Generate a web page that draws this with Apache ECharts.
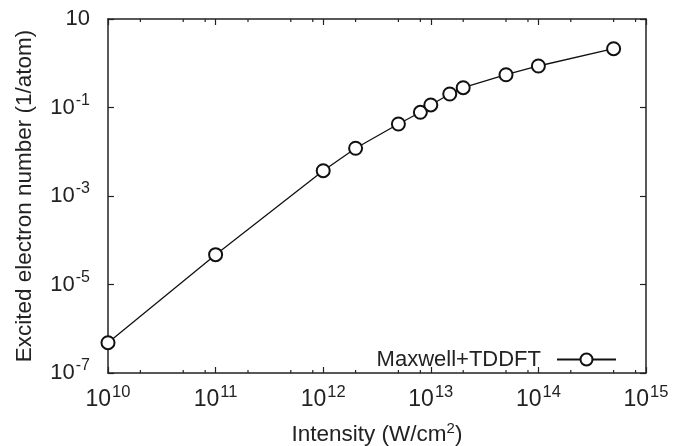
<!DOCTYPE html>
<html><head><meta charset="utf-8">
<script src="https://cdn.jsdelivr.net/npm/echarts@6/dist/echarts.min.js"></script>
<style>html,body{margin:0;padding:0;background:#fff}#c{width:681px;height:446px}</style>
</head><body><div id="c"></div>
<script>
// ---- data ----
const intensity = [1e10, 1e11, 1e12, 2e12, 5e12, 8e12, 1e13, 1.5e13, 2e13, 5e13, 1e14, 5e14];
const excited   = [4.84e-7, 4.72e-5, 3.73e-3, 0.0120, 0.0424, 0.078, 0.114, 0.202, 0.28, 0.55, 0.867, 2.13];
const seriesName = 'Maxwell+TDDFT';
const xDecades = [10, 11, 12, 13, 14];
const minorMultipliers = [2, 5, 8];
const xTitle = 'Intensity (W/cm{s|2})';
const yTitle = 'Excited electron number (1/atom)';

const FONT = "'Liberation Sans', Arial, Helvetica, sans-serif";
const INK = '#222';

const minorTicks = [];
xDecades.forEach(d => minorMultipliers.forEach(m => minorTicks.push([m * Math.pow(10, d), 1])));

function expLabel(v, plainOne) {
  const e = Math.round(Math.log10(v));
  if (plainOne && e === 1) return '{b|10}';
  return '{b|10}{s|' + e + '}';
}
const richLab = {
  b: { fontSize: 22, fontFamily: FONT, color: INK },
  s: { fontSize: 16, fontFamily: FONT, color: INK, padding: [0, 0, 14, 1] }
};
const richLabX = {
  b: { fontSize: 23, fontFamily: FONT, color: INK },
  s: { fontSize: 16.5, fontFamily: FONT, color: INK, padding: [0, 0, 14, 1] }
};

const chart = echarts.init(document.getElementById('c'), null, { renderer: 'canvas' });
const axisCommon = {
  type: 'log', logBase: 10,
  axisLine: { show: true, lineStyle: { color: INK, width: 1.5 } },
  axisTick: { show: true, inside: true, length: 6, lineStyle: { color: INK, width: 1.2 } },
  splitLine: { show: false }, minorTick: { show: false }, minorSplitLine: { show: false }
};
chart.setOption({
  backgroundColor: '#fff',
  animation: false,
  grid: { left: 108, right: 35, top: 19, bottom: 73, containLabel: false, outerBoundsMode: 'none' },
  legend: {
    data: [seriesName], right: 64, top: 348.5, align: 'right', padding: 0,
    itemWidth: 59, itemHeight: 15, selectedMode: false,
    textStyle: { fontSize: 22, fontFamily: FONT, color: INK, padding: [0, 11, 0, 0] }
  },
  xAxis: [
    Object.assign({}, axisCommon, {
      position: 'bottom', min: 1e10, max: 1e15, interval: 1,
      name: xTitle, nameLocation: 'middle', nameGap: 48,
      nameTextStyle: { fontSize: 22.5, fontFamily: FONT, color: INK, rich: { s: { fontSize: 15, fontFamily: FONT, color: INK, padding: [0, 0, 12, 0] } } },
      axisLabel: { margin: 11, formatter: v => expLabel(v, false), rich: richLabX }
    }),
    Object.assign({}, axisCommon, {
      position: 'top', min: 1e10, max: 1e15, interval: 1, axisLabel: { show: false }
    })
  ],
  yAxis: [
    Object.assign({}, axisCommon, {
      position: 'left', min: 1e-7, max: 10, interval: 2,
      name: yTitle, nameLocation: 'middle', nameGap: 72, nameRotate: 90,
      nameTextStyle: { fontSize: 22.5, fontFamily: FONT, color: INK },
      axisLabel: { margin: 18, formatter: v => expLabel(v, true), rich: richLab }
    }),
    Object.assign({}, axisCommon, {
      position: 'right', min: 1e-7, max: 10, interval: 2, axisLabel: { show: false }
    })
  ],
  series: [
    {
      name: seriesName, type: 'line', xAxisIndex: 0, yAxisIndex: 0,
      data: intensity.map((x, i) => [x, excited[i]]),
      symbol: 'emptyCircle', symbolSize: 13,
      itemStyle: { color: '#111', borderColor: '#111', borderWidth: 1.3 },
      lineStyle: { color: '#111', width: 1.3 },
      z: 3
    },
    {
      name: 'minorTicks', type: 'custom', xAxisIndex: 0, yAxisIndex: 0,
      data: minorTicks, silent: true, clip: false,
      renderItem: function (params, api) {
        const px = api.coord([api.value(0), api.value(1)])[0];
        const cs = params.coordSys;
        const yb = cs.y + cs.height, yt = cs.y;
        const st = { stroke: INK, lineWidth: 1.2 };
        return {
          type: 'group',
          children: [
            { type: 'line', shape: { x1: px, y1: yb, x2: px, y2: yb - 3 }, style: st },
            { type: 'line', shape: { x1: px, y1: yt, x2: px, y2: yt + 3 }, style: st }
          ]
        };
      }
    }
  ]
});
</script></body></html>
